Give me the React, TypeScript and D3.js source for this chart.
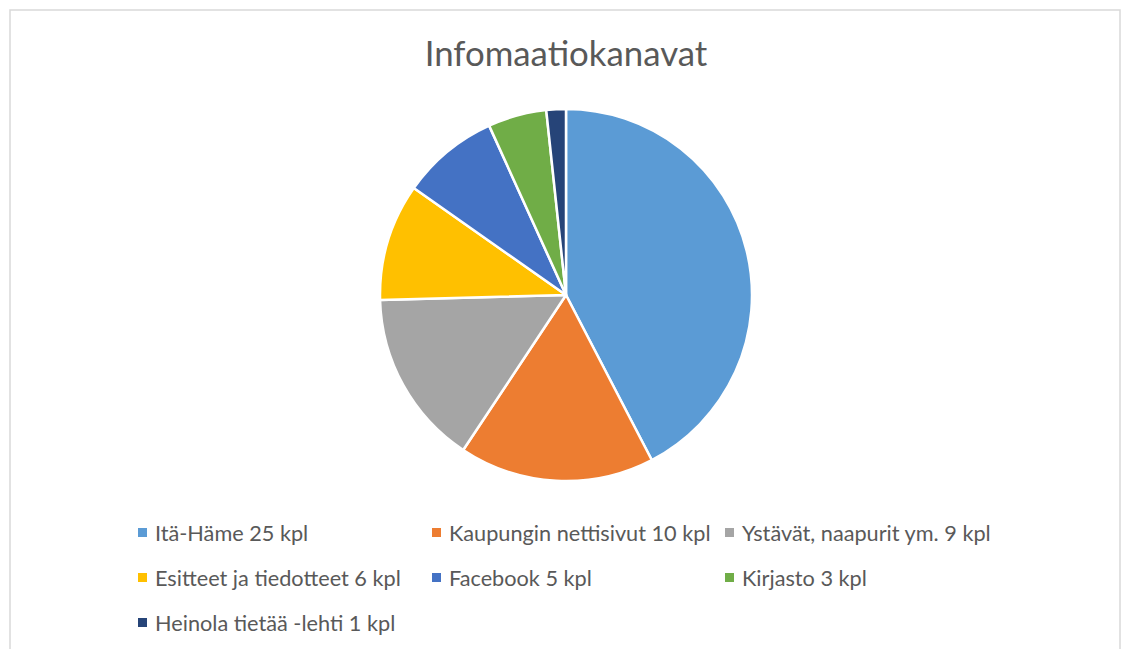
import React, { useRef, useEffect } from "react";
import * as d3 from "d3";

const categories = [
  "Itä-Häme",
  "Kaupungin nettisivut",
  "Ystävät, naapurit ym.",
  "Esitteet ja tiedotteet",
  "Facebook",
  "Kirjasto",
  "Heinola tietää -lehti",
];
const counts = [25, 10, 9, 6, 5, 3, 1];
const colors = ["#5B9BD5", "#ED7D31", "#A5A5A5", "#FFC000", "#4472C4", "#70AD47", "#264478"];
const title = "Infomaatiokanavat";

const W = 1122;
const H = 649;

const App = () => {
  const svgRef = useRef<SVGSVGElement>(null);

  useEffect(() => {
    const svg = d3.select(svgRef.current);
    svg.selectAll("*").remove();

    const font = "Lato, 'Open Sans', sans-serif";

    // chart frame
    svg
      .append("rect")
      .attr("x", 10)
      .attr("y", 10)
      .attr("width", 1110)
      .attr("height", H + 20)
      .attr("fill", "#fff")
      .attr("stroke", "#d9d9d9")
      .attr("stroke-width", 1.5);

    svg
      .append("text")
      .attr("x", 566)
      .attr("y", 66)
      .attr("text-anchor", "middle")
      .attr("font-family", font)
      .attr("font-size", 34.8)
      .attr("fill", "#595959")
      .text(title);

    const data = categories.map((c, i) => ({ name: c, value: counts[i], color: colors[i] }));

    const pie = d3
      .pie<any>()
      .value((d) => d.value)
      .sort(null);
    const arc = d3.arc<any>().innerRadius(0).outerRadius(186);

    svg
      .append("g")
      .attr("transform", "translate(566,295)")
      .selectAll("path")
      .data(pie(data))
      .join("path")
      .attr("d", arc)
      .attr("fill", (d) => d.data.color)
      .attr("stroke", "#fff")
      .attr("stroke-width", 2.5)
      .attr("stroke-linejoin", "round");

    // legend, 3 columns
    const colX = [138, 432, 725];
    const rowY = d3.scaleLinear().domain([0, 1]).range([533, 578]);
    const legend = svg
      .append("g")
      .selectAll("g")
      .data(data)
      .join("g")
      .attr("transform", (d, i) => `translate(${colX[i % 3]},${rowY(Math.floor(i / 3))})`);

    legend
      .append("rect")
      .attr("x", 0)
      .attr("y", -5)
      .attr("width", 9)
      .attr("height", 9)
      .attr("fill", (d) => d.color);

    legend
      .append("text")
      .attr("x", 17)
      .attr("y", 7.5)
      .attr("font-family", font)
      .attr("font-size", 21.7)
      .attr("fill", "#595959")
      .text((d) => `${d.name} ${d.value} kpl`);
  }, []);

  return (
    <svg
      ref={svgRef}
      width={W}
      height={H}
      style={{ position: "absolute", left: 0, top: 0, background: "#fff" }}
    />
  );
};

export default App;
